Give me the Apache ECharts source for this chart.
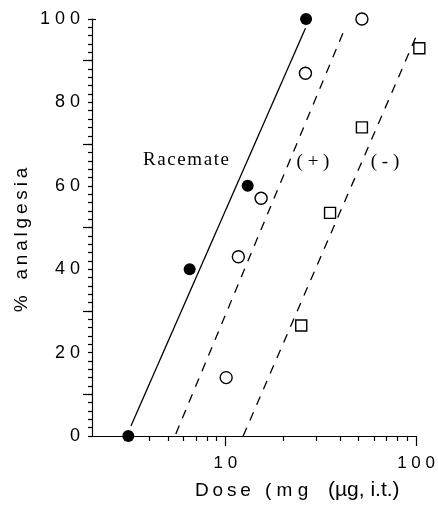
<!DOCTYPE html>
<html>
<head>
<meta charset="utf-8">
<script src="https://cdn.jsdelivr.net/npm/echarts@6/dist/echarts.min.js"></script>
<style>
  html, body { margin: 0; background: #fff; }
  #chart { width: 438px; height: 506px; }
</style>
</head>
<body>
<div id="chart"></div>
<script>
// dose (ug, i.t.) vs % analgesia
var racemate = [[3.1, 0], [6.5, 40], [13.1, 60], [26.5, 100]]
var plusIso = [[10.1, 14], [11.7, 43], [15.4, 57], [26.3, 87], [52, 100]]
var minusIso = [[25, 26.5], [35.4, 53.5], [52, 74], [104, 93]]
// fitted lines, end points
var racemateFit = [[3.2, 2.4], [26.3, 97.8]]
var plusFit = [[5.5, 0.5], [42.4, 97.8]]
var minusFit = [[12.4, 0], [104, 97.6]]
// ticks
var xMajor = [10, 100]
var xMinor = [3, 4, 5, 6, 7, 8, 9, 20, 30, 40, 50, 60, 70, 80, 90]
var yMid = [10, 30, 50, 70, 90]

var ink = '#000'
var sans = 'Liberation Sans, Arial, sans-serif'
var serif = 'Liberation Serif, Times New Roman, serif'
function spaced (s, sep) { return String(s).split('').join(sep || ' ') }

var chart = echarts.init(document.getElementById('chart'))

var logAxis = function (extra) {
  return Object.assign({
    type: 'log',
    logBase: 10,
    min: 2,
    max: 100,
    position: 'bottom',
    splitLine: { show: false },
    axisLine: { onZero: false, lineStyle: { color: ink, width: 1.2 } }
  }, extra)
}
var valAxis = function (extra) {
  return Object.assign({
    type: 'value',
    min: 0,
    max: 100,
    position: 'left',
    splitLine: { show: false },
    axisLine: { onZero: false, lineStyle: { color: ink, width: 1.2 } }
  }, extra)
}

var option = {
  animation: false,
  grid: { left: 92, right: 21, top: 19, bottom: 70 },
  xAxis: [
    logAxis({
      axisTick: { customValues: xMajor, length: 10, lineStyle: { color: ink, width: 1.2 } },
      axisLabel: {
        customValues: xMajor,
        formatter: function (v) { return spaced(Math.round(v)) },
        fontSize: 17, fontFamily: sans, color: ink, margin: 19
      }
    }),
    logAxis({
      axisLine: { show: false },
      axisTick: { customValues: xMinor, length: 5, lineStyle: { color: ink, width: 1.2 } },
      axisLabel: { show: false }
    })
  ],
  yAxis: [
    valAxis({
      interval: 20,
      axisTick: { length: 4, lineStyle: { color: ink, width: 1.2 } },
      minorTick: { show: true, splitNumber: 10, length: 4, lineStyle: { color: ink, width: 1.2 } },
      minorSplitLine: { show: false },
      axisLabel: {
        formatter: function (v) { return spaced(v) },
        fontSize: 18, fontFamily: sans, color: ink, margin: 12
      }
    }),
    valAxis({
      axisLine: { show: false },
      axisTick: { customValues: yMid, length: 9, lineStyle: { color: ink, width: 1.2 } },
      axisLabel: { show: false }
    }),
    valAxis({
      axisLine: { show: false },
      axisTick: { customValues: [100], inside: true, length: 4, lineStyle: { color: ink, width: 1.2 } },
      axisLabel: { show: false }
    })
  ],
  graphic: [
    {
      type: 'text', x: 22, y: 240, rotation: Math.PI / 2,
      style: { text: '%   ' + spaced('analgesia', '\u2009'), font: '19px ' + sans, fill: ink, align: 'center', verticalAlign: 'middle' }
    },
    {
      type: 'text', x: 195, y: 491,
      style: { text: spaced('Dose', '\u2009'), font: '19px ' + sans, fill: ink, align: 'left', verticalAlign: 'middle' }
    },
    {
      type: 'text', x: 265, y: 491,
      style: { text: '( m g', font: '19px ' + sans, fill: ink, align: 'left', verticalAlign: 'middle' }
    },
    {
      type: 'text', x: 328, y: 490,
      style: { text: '(\u00b5g, i.t.)', font: '21px ' + sans, fill: ink, align: 'left', verticalAlign: 'middle' }
    },
    {
      type: 'text', x: 143, y: 160,
      style: { text: spaced('Racemate', '\u200a'), font: '19px ' + serif, fill: ink, align: 'left', verticalAlign: 'middle' }
    },
    {
      type: 'text', x: 313, y: 162,
      style: { text: '( + )', font: '19px ' + serif, fill: ink, align: 'center', verticalAlign: 'middle' }
    },
    {
      type: 'text', x: 385, y: 162,
      style: { text: '( - )', font: '19px ' + serif, fill: ink, align: 'center', verticalAlign: 'middle' }
    }
  ],
  series: [
    {
      type: 'line', data: racemateFit, symbol: 'none', clip: false,
      lineStyle: { color: ink, width: 1.3 }
    },
    {
      type: 'line', data: plusFit, symbol: 'none', clip: false,
      lineStyle: { color: ink, width: 1.3, type: [9, 8] }
    },
    {
      type: 'line', data: minusFit, symbol: 'none', clip: false,
      lineStyle: { color: ink, width: 1.3, type: [9, 8] }
    },
    {
      type: 'scatter', data: racemate, symbol: 'circle', symbolSize: 12, clip: false,
      itemStyle: { color: '#000', opacity: 1 }
    },
    {
      type: 'scatter', data: plusIso, symbol: 'circle', symbolSize: 12, clip: false,
      itemStyle: { color: '#fff', borderColor: ink, borderWidth: 1.4, opacity: 1 }
    },
    {
      type: 'scatter', data: minusIso, symbol: 'rect', symbolSize: 11, clip: false,
      itemStyle: { color: '#fff', borderColor: ink, borderWidth: 1.4, opacity: 1 }
    }
  ]
}

chart.setOption(option)
window.addEventListener('resize', function () { chart.resize() })
</script>
</body>
</html>
